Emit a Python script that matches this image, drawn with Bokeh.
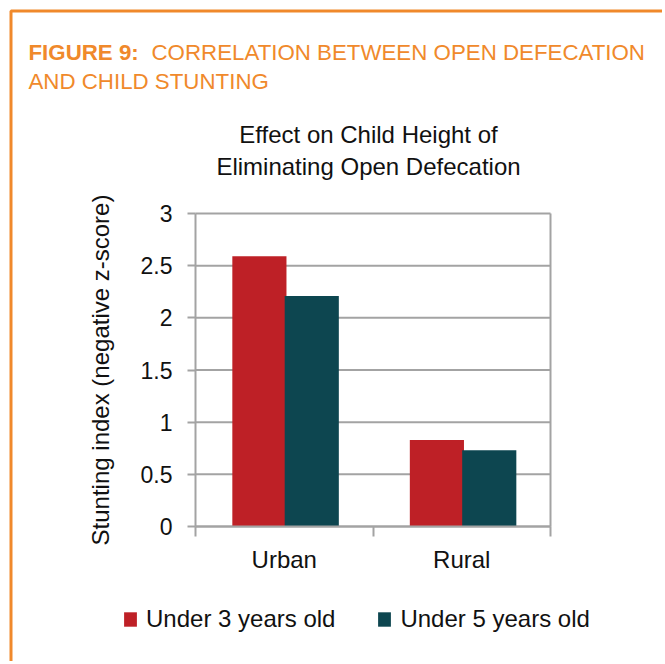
from bokeh.plotting import figure
from bokeh.models import (ColumnDataSource, Range1d, FixedTicker, Legend, LegendItem, Label,
                          BoxAnnotation)
from bokeh.transform import dodge
from bokeh.embed import file_html
from bokeh.resources import INLINE

categories = ["Urban", "Rural"]
under3 = [2.59, 0.83]
under5 = [2.21, 0.73]
series_names = ["Under 3 years old", "Under 5 years old"]
y_ticks = [0, 0.5, 1, 1.5, 2, 2.5, 3]
y_tick_labels = ["0", "0.5", "1", "1.5", "2", "2.5", "3"]

RED = "#BE2026"
TEAL = "#0D4650"
GRAY = "#A3A3A3"
ORANGE = "#F0892B"
FONT = "Liberation Sans"
TXT = "#111111"

# page layout (pixels): plot box left/right/top/bottom
W, H = 662, 661
BOX_L, BOX_R, BOX_T, BOX_B = 195, 550, 213, 526
n = len(categories)
ymax = y_ticks[-1]
sx = (BOX_R - BOX_L) / n
sy = (BOX_B - BOX_T) / ymax

def dx(px):
    return (px - BOX_L) / sx

def dy(py):
    return (BOX_B - py) / sy

centers = [i + 0.5 for i in range(n)]
boundaries = list(range(n + 1))
src = ColumnDataSource(dict(x=centers, u3=under3, u5=under5))
grid_src = ColumnDataSource(dict(y=y_ticks, x0=[0] * len(y_ticks), x1=[n] * len(y_ticks)))

p = figure(width=W, height=H, x_range=Range1d(dx(0), dx(W)), y_range=Range1d(dy(H), dy(0)),
           output_backend="svg", toolbar_location=None,
           min_border=0, min_border_left=0, min_border_right=0, min_border_top=0, min_border_bottom=0)
p.outline_line_color = None
p.xgrid.visible = False
p.ygrid.visible = False

# grid lines and right border of the plot box
p.segment(x0="x0", x1="x1", y0="y", y1="y", source=grid_src, line_color=GRAY, line_width=2)
p.segment(x0=[n], x1=[n], y0=[0], y1=[ymax], line_color=GRAY, line_width=2)

r1 = p.vbar(x=dodge("x", -0.14, range=p.x_range), top="u3", width=0.305, source=src,
            fill_color=RED, line_color=None)
r2 = p.vbar(x=dodge("x", 0.155, range=p.x_range), top="u5", width=0.305, source=src,
            fill_color=TEAL, line_color=None)

xa = p.xaxis[0]
xa.fixed_location = 0
xa.bounds = (0, n)
xa.ticker = FixedTicker(ticks=centers, minor_ticks=boundaries)
xa.major_label_overrides = {c: nm for c, nm in zip(centers, categories)}
xa.major_tick_line_color = None
xa.major_tick_out = 10
xa.major_tick_in = 0
xa.minor_tick_out = 10
xa.minor_tick_in = 0
xa.minor_tick_line_color = GRAY
xa.minor_tick_line_width = 2
xa.axis_line_color = GRAY
xa.axis_line_width = 2
xa.major_label_standoff = 9
xa.major_label_text_font = FONT
xa.major_label_text_font_size = "24px"
xa.major_label_text_color = TXT

ya = p.yaxis[0]
ya.fixed_location = 0
ya.bounds = (0, ymax)
ya.ticker = FixedTicker(ticks=y_ticks)
ya.major_label_overrides = {t: s for t, s in zip(y_ticks, y_tick_labels)}
ya.minor_tick_line_color = None
ya.major_tick_out = 8
ya.major_tick_in = 0
ya.major_tick_line_color = GRAY
ya.major_tick_line_width = 2
ya.axis_line_color = GRAY
ya.axis_line_width = 2
ya.major_label_standoff = 15
ya.major_label_text_font = FONT
ya.major_label_text_font_size = "23px"
ya.major_label_text_color = TXT
ya.axis_label = "Stunting index (negative z-score)"
ya.axis_label_text_font = FONT
ya.axis_label_text_font_size = "24px"
ya.axis_label_text_font_style = "normal"
ya.axis_label_text_color = TXT
ya.axis_label_standoff = 24

# orange frame of the figure box (top and left edges)
p.add_layout(BoxAnnotation(left=dx(10.5), top=dy(10.5), right=dx(W + 40), bottom=dy(H + 40),
                           fill_alpha=0, line_color=ORANGE, line_alpha=1, line_width=3))

def add_label(px, py, text, size, color=TXT, style="normal", align="left"):
    p.add_layout(Label(x=dx(px), y=dy(py), text=text, text_font=FONT, text_font_size=size,
                       text_color=color, text_font_style=style, text_align=align,
                       text_baseline="alphabetic"))

add_label(28, 51.5, "FIGURE 9:", "22.3px", ORANGE, "bold")
add_label(151, 51.5, "CORRELATION BETWEEN OPEN DEFECATION", "22.3px", ORANGE)
add_label(28, 81, "AND CHILD STUNTING", "22.3px", ORANGE)
add_label(368, 134, "Effect on Child Height of", "24px", align="center")
add_label(368, 166, "Eliminating Open Defecation", "24px", align="center")

legend = Legend(items=[LegendItem(label=series_names[0], renderers=[r1]),
                       LegendItem(label=series_names[1], renderers=[r2])],
                orientation="horizontal", location=(122, H - 633),
                glyph_width=16, glyph_height=18, label_standoff=8, spacing=41,
                padding=0, margin=0, border_line_color=None, background_fill_alpha=0,
                label_text_font=FONT, label_text_font_size="24px", label_text_color=TXT)
p.add_layout(legend)

open("out.html", "w").write(file_html(p, INLINE))
